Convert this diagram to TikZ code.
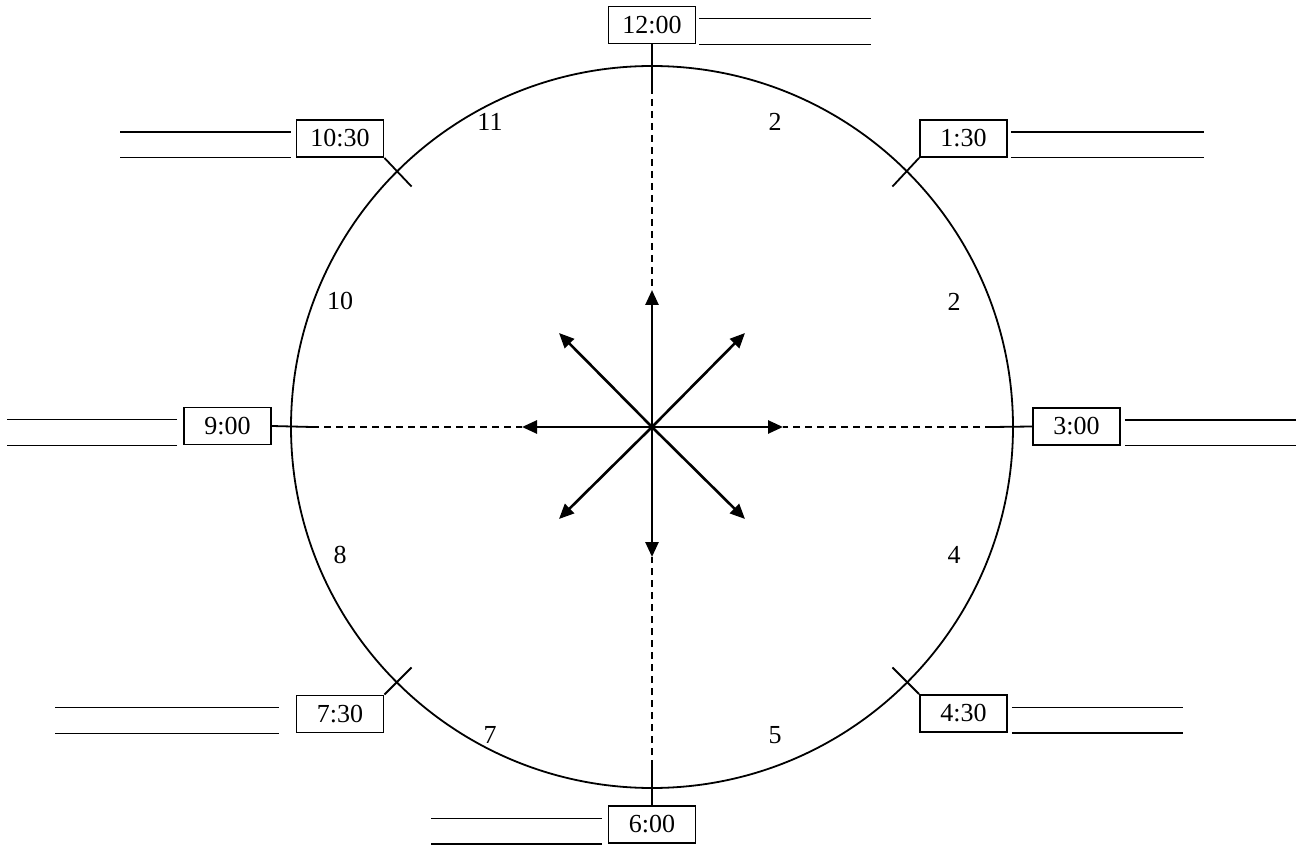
\documentclass[tikz,border=0pt]{standalone}
\usepackage{fontspec}
\setmainfont{Liberation Serif}
\usetikzlibrary{arrows.meta,calc}
\begin{document}
\begin{tikzpicture}[x=0.5pt,y=-0.5pt,
  box/.style={draw,line width=0.9pt,minimum width=43.5pt,minimum height=18.5pt,inner sep=0pt,font=\fontsize{13}{15}\selectfont},
  num/.style={font=\fontsize{13}{15}\selectfont,inner sep=0pt},
  blank/.style={line width=0.6pt},
  tick/.style={line width=0.9pt},
  guide/.style={line width=0.8pt,dash pattern=on 3.5pt off 2.5pt},
  arr/.style={line width=1.3pt,-{Triangle[length=7.5pt,width=6.5pt]}}]
\useasboundingbox (0,0) rectangle (1297,845);
% centre and circle
\coordinate (C) at (652,427);
\draw[line width=0.9pt] (C) circle[radius=361];
% inner ends of the ticks (r = 340)
\coordinate (iN) at (652,87);
\coordinate (iS) at (652,767);
\coordinate (iW) at (312,427);
\coordinate (iE) at (992,427);
\coordinate (iNW) at (411.6,186.6);
\coordinate (iNE) at (892.4,186.6);
\coordinate (iSW) at (411.6,667.4);
\coordinate (iSE) at (892.4,667.4);
% arrow tips
\coordinate (tN) at (652,290);
\coordinate (tS) at (652,557);
\coordinate (tW) at (522,427);
\coordinate (tE) at (783,427);
\coordinate (tNW) at (559,333);
\coordinate (tNE) at (745,333);
\coordinate (tSW) at (559,519);
\coordinate (tSE) at (745,519);
% boxes
\node[box] (b12) at (652,25) {12:00};
\node[box] (b1030) at (340,138.5) {10:30};
\node[box] (b130) at (963.5,138.5) {1:30};
\node[box] (b9) at (227.5,426) {9:00};
\node[box] (b3) at (1076.5,426.5) {3:00};
\node[box] (b730) at (340,714) {7:30};
\node[box] (b430) at (963.5,713.5) {4:30};
\node[box] (b6) at (652,824.5) {6:00};
% ticks
\draw[tick] (b12.south) -- (iN);
\draw[tick] (b6.north) -- (iS);
\draw[tick] (b9.east) -- (iW);
\draw[tick] (b3.west) -- (iE);
\draw[tick] (b1030.south east) -- (iNW);
\draw[tick] (b130.south west) -- (iNE);
\draw[tick] (b730.north east) -- (iSW);
\draw[tick] (b430.north west) -- (iSE);
% dashed guides
\draw[guide] (iN) -- (tN);
\draw[guide] (iS) -- (tS);
\draw[guide] (iW) -- (tW);
\draw[guide] (iE) -- (tE);
% arrows
\foreach \t in {tN,tS,tW,tE,tNW,tNE,tSW,tSE} \draw[arr] (C) -- (\t);
% blank answer lines
\draw[blank] ($(b12.north east)+(3,13)$) -- ++(172,0);
\draw[blank] ($(b12.south east)+(3,0)$) -- ++(172,0);
\draw[blank] ($(b1030.north west)+(-5,13)$) -- ++(-171,0);
\draw[blank] ($(b1030.south west)+(-5,0)$) -- ++(-171,0);
\draw[blank] ($(b130.north east)+(3,13)$) -- ++(193,0);
\draw[blank] ($(b130.south east)+(3,0)$) -- ++(193,0);
\draw[blank] ($(b9.north west)+(-6,13)$) -- ++(-170,0);
\draw[blank] ($(b9.south west)+(-6,0)$) -- ++(-170,0);
\draw[blank] ($(b3.north east)+(4,13)$) -- ++(171,0);
\draw[blank] ($(b3.south east)+(4,0)$) -- ++(171,0);
\draw[blank] ($(b730.north west)+(-17,13)$) -- ++(-224,0);
\draw[blank] ($(b730.south west)+(-17,0)$) -- ++(-224,0);
\draw[blank] ($(b430.north east)+(4,13)$) -- ++(171,0);
\draw[blank] ($(b430.south east)+(4,0)$) -- ++(171,0);
\draw[blank] ($(b6.north west)+(-6,13)$) -- ++(-171,0);
\draw[blank] ($(b6.south west)+(-6,0)$) -- ++(-171,0);
% hour numbers
\node[num] (n11) at (490,122) {11};
\node[num] (n2a) at (775,122) {2};
\node[num] (n10) at (340,301) {10};
\node[num] (n2b) at (954,302) {2};
\node[num] (n8) at (340,555) {8};
\node[num] (n4) at (954,555) {4};
\node[num] (n7) at (490,735) {7};
\node[num] (n5) at (775,735) {5};
\end{tikzpicture}
\end{document}
